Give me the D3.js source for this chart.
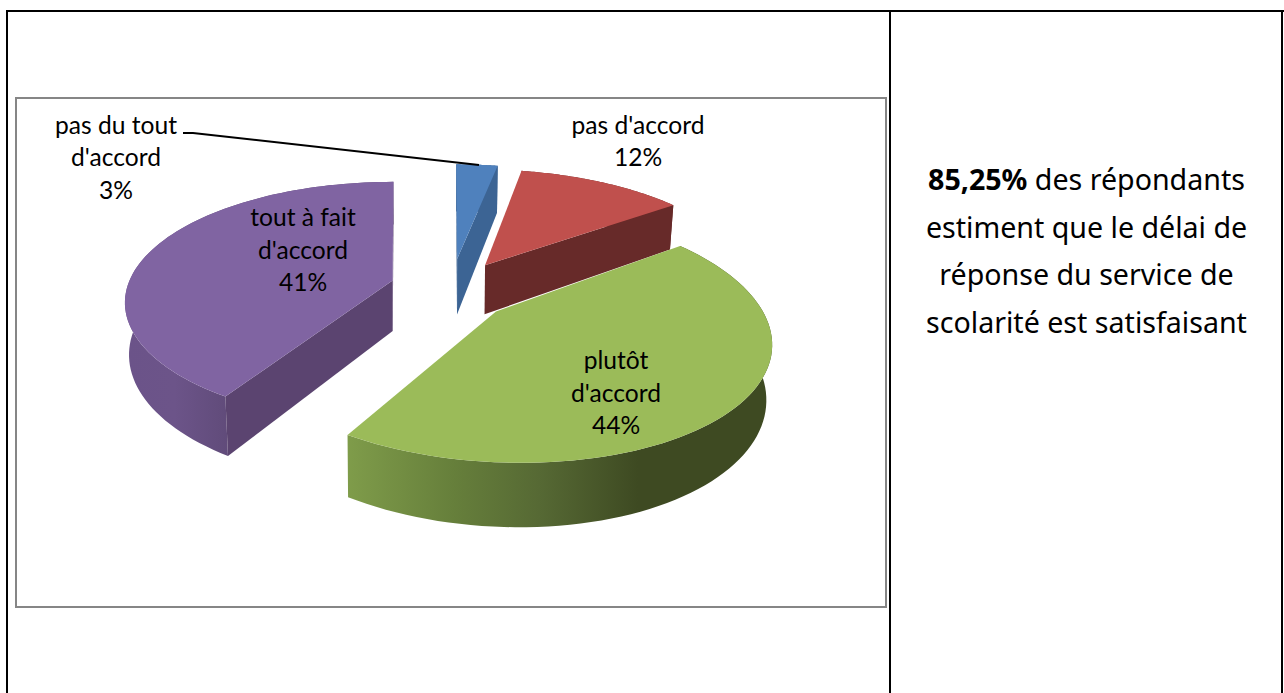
<!DOCTYPE html>
<html><head><meta charset="utf-8">
<script src="https://cdn.jsdelivr.net/npm/d3@7/dist/d3.min.js"></script>
<style>html,body{margin:0;padding:0;background:#fff;overflow:hidden}svg{display:block}</style>
</head><body><svg id="c" width="1284" height="693"></svg>
<script>
const categories = ["pas du tout d'accord", "pas d'accord", "plutôt d'accord", "tout à fait d'accord"];
const shares = [3, 12, 44, 41];
const topColors = ["#4f81bd", "#c0504d", "#9bbb59", "#8064a2"];
const wallColors = ["#3c6494", "#672a29", "#3e4a22", "#5b4470"];
const labelLines = [["pas du tout", "d'accord", "3%"], ["pas d'accord", "12%"], ["plutôt", "d'accord", "44%"], ["tout à fait", "d'accord", "41%"]];
const labelAnchors = [[116, 125.5], [638, 125.5], [616, 361], [303, 218]];
const noteLines = [[["85,25%", true], [" des répondants", false]], [["estiment que le délai de", false]], [["réponse du service de", false]], [["scolarité est satisfaisant", false]]];
// layout tweaks per slice: screen shift, off-axis lean, radius, thickness
const sliceNudge = [[50, -2], [49, 0], [-18, 0], [-3, -1]];
const sliceLean = [0, 0, 0.22, 0.22];
const sliceRadius = [1, 1, 0.95, 0.98];
const sliceDepth = [58, 51, 51, 51];

const svg = d3.select("#c");
const defs = svg.append("defs");
const vx = 401, cy = 290, rx = 272, ry = 122, k = 0.186, explode = 0.25;

const pie = d3.pie().sort(null).value(d => d);
const arcs = pie(shares);

function project(i, mid, th, r, z) {
  const X = explode * Math.sin(mid) + r * Math.sin(th) + sliceLean[i];
  const Y = explode * Math.cos(mid) + r * Math.cos(th);
  const s = 1 / (1 + k * Y);
  const shrink = z ? 0.985 : 1;
  return [vx + rx * X * s * shrink + sliceNudge[i][0], cy - ry * Y * s + (z ? sliceDepth[i] * s : 0) + sliceNudge[i][1]];
}
const line = d3.line();

const purpleGrad = defs.append("linearGradient").attr("id", "g3").attr("gradientUnits", "userSpaceOnUse")
  .attr("x1", 125).attr("x2", 235).attr("y1", 0).attr("y2", 0);
[[0, "#6b5389"], [0.45, "#6c5489"], [1, "#5f4a78"]].forEach(s => purpleGrad.append("stop").attr("offset", s[0]).attr("stop-color", s[1]));
const greenGrad = defs.append("linearGradient").attr("id", "g2").attr("gradientUnits", "userSpaceOnUse")
  .attr("x1", 347).attr("x2", 775).attr("y1", 0).attr("y2", 0);
[[0, "#7f9c4a"], [0.25, "#667f3b"], [0.45, "#566934"], [0.68, "#3e4a22"], [1, "#3e4a22"]].forEach(s => greenGrad.append("stop").attr("offset", s[0]).attr("stop-color", s[1]));
const outerFill = ["#3c6494", "#672a29", "url(#g2)", "url(#g3)"];

const order = [0, 1, 3, 2];
const g = svg.append("g");
order.forEach(i => {
  const d = arcs[i];
  const mid = (d.startAngle + d.endAngle) / 2;
  const r = sliceRadius[i];
  const angles = d3.range(0, 81).map(t => d.startAngle + (d.endAngle - d.startAngle) * t / 80);
  const rimTop = angles.map(t => project(i, mid, t, r, false));
  const rimBot = angles.map(t => project(i, mid, t, r, true));
  const apex = project(i, mid, 0, 0, false);
  const apexBot = project(i, mid, 0, 0, true);
  g.append("path").attr("d", line(rimTop.concat(rimBot.slice().reverse())) + "Z").attr("fill", outerFill[i]);
  // a radial wall shows only when it faces the viewer
  if (rimTop[0][0] < apex[0]) g.append("path").attr("d", line([apex, rimTop[0], rimBot[0], apexBot]) + "Z").attr("fill", wallColors[i]);
  if (rimTop[80][0] > apex[0]) g.append("path").attr("d", line([apex, rimTop[80], rimBot[80], apexBot]) + "Z").attr("fill", wallColors[i]);
  g.append("path").attr("d", line([apex].concat(rimTop)) + "Z").attr("fill", topColors[i]);
});

const rule = (x1, y1, x2, y2, c, w) => svg.append("line").attr("x1", x1).attr("y1", y1).attr("x2", x2).attr("y2", y2).attr("stroke", c).attr("stroke-width", w);
rule(6, 11, 1284, 11, "#000", 2);
rule(7, 10, 7, 693, "#000", 2);
rule(890, 10, 890, 693, "#000", 2);
rule(1282, 10, 1282, 693, "#000", 2);
svg.append("rect").attr("x", 16).attr("y", 98).attr("width", 870).attr("height", 509)
  .attr("fill", "none").attr("stroke", "#868686").attr("stroke-width", 2);

svg.append("path").attr("d", line([[183, 133], [193, 133], [479, 165]])).attr("fill", "none").attr("stroke", "#000").attr("stroke-width", 2);

labelLines.forEach((ls, i) => {
  ls.forEach((t, j) => {
    svg.append("text").attr("x", labelAnchors[i][0]).attr("y", labelAnchors[i][1] + j * 32.5 + 8)
      .attr("text-anchor", "middle").attr("font-family", "Lato, 'Open Sans', sans-serif").attr("font-size", 24.6).attr("fill", "#000").text(t);
  });
});

noteLines.forEach((spans, j) => {
  const t = svg.append("text").attr("x", 1086.5).attr("y", 190 + j * 47.5).attr("text-anchor", "middle")
    .attr("font-family", "'Noto Sans', sans-serif").attr("font-size", 28.6).attr("fill", "#000");
  spans.forEach(s => t.append("tspan").attr("font-weight", s[1] ? 700 : 400).text(s[0]));
});
</script></body></html>
